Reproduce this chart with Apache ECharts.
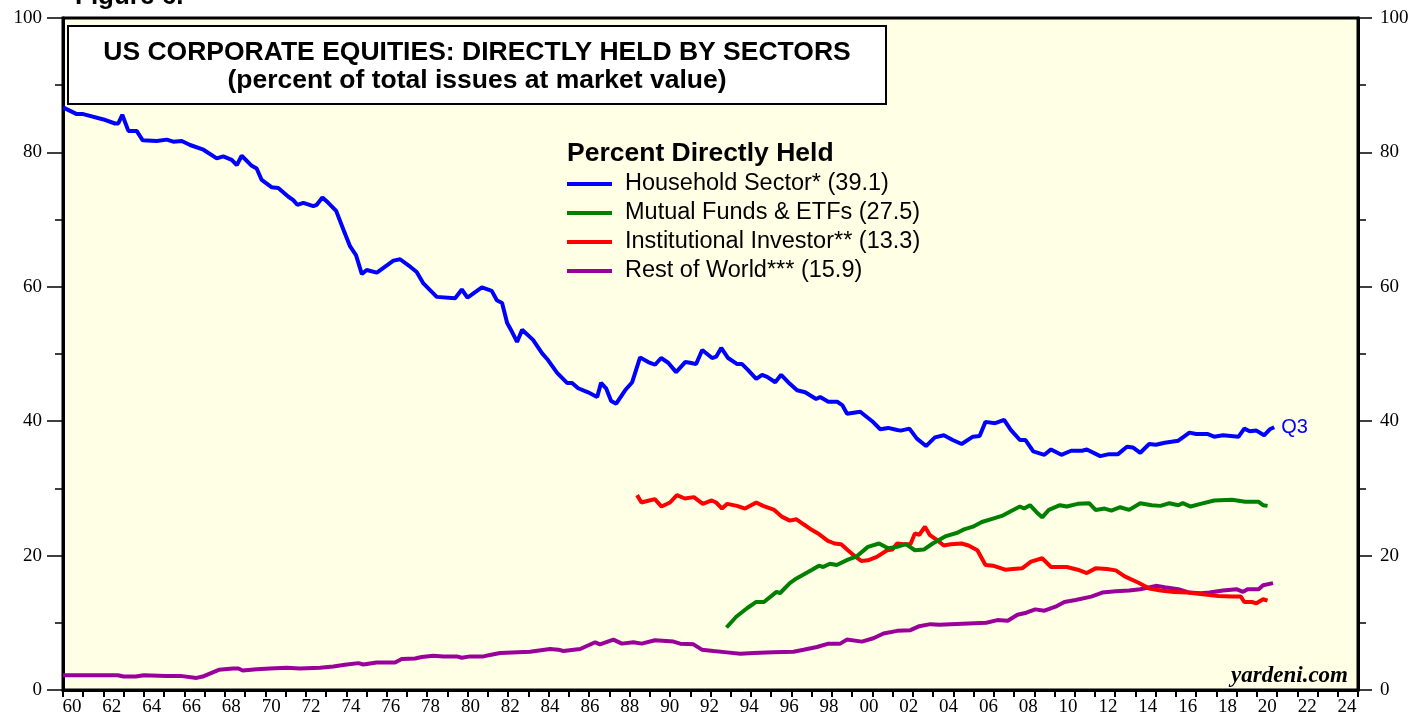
<!DOCTYPE html>
<html>
<head>
<meta charset="utf-8">
<title>US Corporate Equities: Directly Held by Sectors</title>
<script src="https://cdn.jsdelivr.net/npm/echarts@6/dist/echarts.min.js"></script>
<style>
    html, body { margin: 0; padding: 0; background: #ffffff; }
    #chart { width: 1414px; height: 719px; }
</style>
</head>
<body>
<div id="chart"></div>
<script>
// [year, percent] (roughly quarterly where the line moves)
const householdData = [
    [1960.0, 86.7], [1960.68, 85.7], [1961.0, 85.7], [1962.0, 84.9], [1962.57, 84.3], [1962.73, 84.3],
    [1962.93, 85.6], [1963.23, 83.2], [1963.64, 83.2], [1963.94, 81.8], [1964.63, 81.7], [1965.13, 81.9],
    [1965.45, 81.6], [1965.87, 81.7], [1966.28, 81.1], [1966.94, 80.4], [1967.6, 79.1], [1967.92, 79.4],
    [1968.34, 78.9], [1968.59, 78.1], [1968.83, 79.5], [1969.33, 78.0], [1969.57, 77.6], [1969.82, 75.9],
    [1970.32, 74.8], [1970.64, 74.7], [1971.14, 73.4], [1971.38, 72.9], [1971.58, 72.2], [1971.88, 72.5],
    [1972.37, 72.0], [1972.54, 72.2], [1972.82, 73.3], [1973.11, 72.5], [1973.5, 71.3], [1973.86, 68.5],
    [1974.19, 66.0], [1974.48, 64.7], [1974.77, 61.9], [1975.01, 62.5], [1975.51, 62.1], [1975.92, 63.0],
    [1976.33, 63.9], [1976.66, 64.1], [1977.07, 63.2], [1977.48, 62.2], [1977.81, 60.5], [1978.47, 58.5],
    [1979.38, 58.3], [1979.71, 59.6], [1979.99, 58.4], [1980.7, 59.9], [1981.19, 59.4], [1981.44, 58.0],
    [1981.7, 57.6], [1981.95, 54.6], [1982.19, 53.3], [1982.44, 51.8], [1982.69, 53.6], [1983.23, 52.1],
    [1983.68, 50.1], [1983.97, 49.1], [1984.42, 47.2], [1984.91, 45.7], [1985.16, 45.7], [1985.46, 44.9],
    [1985.95, 44.3], [1986.4, 43.6], [1986.59, 45.7], [1986.84, 44.9], [1987.09, 43.0], [1987.34, 42.6],
    [1987.78, 44.6], [1988.13, 45.8], [1988.52, 49.5], [1988.92, 48.8], [1989.26, 48.4], [1989.56, 49.4],
    [1989.91, 48.7], [1990.3, 47.3], [1990.75, 48.8], [1990.99, 48.7], [1991.29, 48.5], [1991.59, 50.6],
    [1992.08, 49.4], [1992.28, 49.6], [1992.53, 50.9], [1992.87, 49.4], [1993.32, 48.5], [1993.56, 48.5],
    [1993.86, 47.6], [1994.26, 46.3], [1994.55, 46.9], [1994.8, 46.6], [1995.2, 45.8], [1995.49, 46.9],
    [1995.84, 45.8], [1996.28, 44.6], [1996.68, 44.3], [1997.22, 43.3], [1997.42, 43.6], [1997.82, 42.9],
    [1998.26, 42.9], [1998.51, 42.4], [1998.75, 41.1], [1999.4, 41.4], [1999.99, 40.0], [2000.39, 38.8],
    [2000.78, 39.0], [2001.23, 38.7], [2001.4, 38.6], [2001.83, 38.9], [2002.2, 37.4], [2002.65, 36.3],
    [2003.09, 37.6], [2003.53, 37.9], [2003.97, 37.2], [2004.41, 36.6], [2004.97, 37.7], [2005.3, 37.8],
    [2005.59, 39.9], [2006.07, 39.7], [2006.51, 40.2], [2006.84, 38.7], [2007.29, 37.2], [2007.57, 37.2],
    [2007.95, 35.5], [2008.5, 35.0], [2008.83, 35.8], [2009.34, 35.0], [2009.82, 35.6], [2010.37, 35.6],
    [2010.6, 35.8], [2011.26, 34.8], [2011.7, 35.1], [2012.14, 35.1], [2012.58, 36.2], [2012.87, 36.1],
    [2013.24, 35.3], [2013.68, 36.6], [2014.01, 36.5], [2014.45, 36.8], [2015.12, 37.1], [2015.67, 38.3],
    [2016.0, 38.1], [2016.55, 38.1], [2016.89, 37.7], [2017.33, 37.9], [2018.1, 37.7], [2018.38, 38.9],
    [2018.65, 38.5], [2018.98, 38.6], [2019.36, 37.9], [2019.64, 38.8], [2019.86, 39.1]
];

const mutualFundData = [
    [1992.79, 9.3], [1993.27, 10.9], [1993.82, 12.2], [1994.26, 13.1], [1994.64, 13.1], [1995.26, 14.6],
    [1995.43, 14.4], [1995.92, 15.9], [1996.25, 16.6], [1997.02, 17.9], [1997.36, 18.5], [1997.57, 18.3],
    [1997.9, 18.8], [1998.24, 18.6], [1998.79, 19.4], [1999.23, 19.9], [1999.78, 21.3], [2000.33, 21.8],
    [2000.78, 21.1], [2001.22, 21.3], [2001.66, 21.7], [2002.1, 20.8], [2002.54, 20.9], [2002.98, 21.8],
    [2003.64, 22.9], [2004.2, 23.4], [2004.53, 23.9], [2004.97, 24.3], [2005.41, 25.0], [2005.96, 25.5],
    [2006.4, 25.9], [2006.84, 26.6], [2007.29, 27.3], [2007.5, 27.0], [2007.79, 27.5], [2008.17, 26.3],
    [2008.39, 25.7], [2008.72, 26.8], [2009.27, 27.5], [2009.6, 27.3], [2010.15, 27.7], [2010.71, 27.8],
    [2011.03, 26.8], [2011.48, 27.0], [2011.81, 26.7], [2012.25, 27.2], [2012.69, 26.8], [2013.24, 27.8],
    [2013.8, 27.5], [2014.24, 27.4], [2014.68, 27.8], [2015.12, 27.5], [2015.34, 27.8], [2015.73, 27.3],
    [2016.22, 27.7], [2016.89, 28.2], [2017.77, 28.3], [2018.43, 28.0], [2019.09, 28.0], [2019.31, 27.5],
    [2019.53, 27.4]
];

const institutionalData = [
    [1988.37, 29.0], [1988.59, 27.9], [1988.97, 28.2], [1989.25, 28.4], [1989.58, 27.3], [1990.0, 27.9],
    [1990.34, 29.0], [1990.73, 28.5], [1991.18, 28.7], [1991.62, 27.7], [1992.06, 28.2], [1992.28, 27.9],
    [1992.57, 27.0], [1992.83, 27.7], [1993.31, 27.4], [1993.71, 27.0], [1994.26, 27.9], [1994.6, 27.4],
    [1995.15, 26.8], [1995.52, 25.8], [1995.92, 25.2], [1996.25, 25.4], [1996.58, 24.7], [1997.02, 23.8],
    [1997.36, 23.2], [1997.8, 22.2], [1998.13, 21.8], [1998.46, 21.7], [1998.79, 20.8], [1999.18, 19.8],
    [1999.45, 19.2], [1999.78, 19.3], [2000.22, 19.8], [2000.73, 20.8], [2000.99, 20.9], [2001.22, 21.8],
    [2001.55, 21.7], [2001.88, 21.7], [2002.1, 23.3], [2002.32, 23.1], [2002.6, 24.3], [2002.83, 23.1],
    [2003.2, 22.3], [2003.53, 21.5], [2003.87, 21.7], [2004.41, 21.8], [2004.75, 21.5], [2005.19, 20.8],
    [2005.59, 18.6], [2005.96, 18.5], [2006.56, 17.9], [2006.95, 18.0], [2007.4, 18.1], [2007.84, 19.1],
    [2008.39, 19.6], [2008.83, 18.3], [2009.6, 18.3], [2010.15, 17.9], [2010.6, 17.4], [2011.03, 18.1],
    [2011.59, 18.0], [2012.03, 17.8], [2012.47, 16.9], [2013.13, 16.0], [2013.69, 15.1], [2014.24, 14.8],
    [2014.9, 14.6], [2015.56, 14.5], [2016.22, 14.3], [2017.1, 14.0], [2017.77, 13.9], [2018.21, 13.9],
    [2018.38, 13.1], [2018.76, 13.1], [2018.98, 12.9], [2019.31, 13.5], [2019.53, 13.3]
];

const restOfWorldData = [
    [1960.0, 2.2], [1961.0, 2.2], [1962.7, 2.2], [1963.0, 2.0], [1963.6, 2.0], [1964.0, 2.2], [1965.1, 2.1],
    [1965.8, 2.1], [1966.6, 1.8], [1966.9, 2.0], [1967.7, 3.0], [1968.4, 3.2], [1968.67, 3.2], [1968.88, 2.9],
    [1969.57, 3.1], [1970.23, 3.2], [1971.06, 3.3], [1971.7, 3.2], [1972.7, 3.3], [1973.36, 3.5],
    [1974.02, 3.8], [1974.6, 4.0], [1974.84, 3.8], [1975.5, 4.1], [1975.83, 4.1], [1976.41, 4.1],
    [1976.74, 4.6], [1977.4, 4.7], [1977.73, 4.9], [1978.3, 5.1], [1978.8, 5.0], [1979.46, 5.0],
    [1979.71, 4.8], [1980.12, 5.0], [1980.78, 5.0], [1981.1, 5.2], [1981.6, 5.5], [1983.08, 5.7],
    [1984.07, 6.1], [1984.48, 6.0], [1984.73, 5.8], [1985.56, 6.1], [1986.3, 7.1], [1986.54, 6.8],
    [1987.2, 7.5], [1987.62, 6.9], [1988.19, 7.1], [1988.6, 6.9], [1989.26, 7.4], [1990.17, 7.2],
    [1990.5, 6.9], [1991.16, 6.8], [1991.57, 6.0], [1992.15, 5.8], [1992.81, 5.6], [1993.47, 5.4],
    [1994.12, 5.5], [1995.11, 5.6], [1996.1, 5.7], [1996.6, 6.0], [1997.26, 6.4], [1997.83, 6.9],
    [1998.41, 6.9], [1998.74, 7.5], [1999.48, 7.2], [2000.05, 7.7], [2000.55, 8.4], [2001.22, 8.8],
    [2001.88, 8.9], [2002.32, 9.5], [2002.87, 9.8], [2003.31, 9.7], [2003.87, 9.8], [2004.75, 9.9],
    [2005.63, 10.0], [2006.18, 10.4], [2006.69, 10.3], [2007.17, 11.2], [2007.61, 11.5], [2008.05, 12.0],
    [2008.5, 11.8], [2009.05, 12.4], [2009.49, 13.1], [2010.04, 13.4], [2010.82, 13.9], [2011.36, 14.5],
    [2012.03, 14.7], [2012.69, 14.8], [2013.24, 15.0], [2014.01, 15.5], [2014.45, 15.3], [2015.12, 15.0],
    [2015.67, 14.5], [2016.22, 14.4], [2016.66, 14.5], [2017.33, 14.8], [2017.99, 15.0], [2018.32, 14.6],
    [2018.54, 15.0], [2019.09, 15.0], [2019.31, 15.6], [2019.8, 15.9]
];

const seriesNames = [
    "Household Sector* (39.1)",
    "Mutual Funds & ETFs (27.5)",
    "Institutional Investor** (13.3)",
    "Rest of World*** (15.9)"
];
const seriesColors = ["#0000ff", "#008000", "#ff0000", "#990099"];
const xLabelYears = [];
for (let y = 1960; y <= 2024; y += 2) xLabelYears.push(y);

const chart = echarts.init(document.getElementById("chart"), null, { renderer: "canvas" });

const serifFont = "'Liberation Serif', 'DejaVu Serif', serif";
const sansFont = "'Liberation Sans', Arial, sans-serif";

function yAxisDef(position, tickLen, margin) {
    return {
        type: "value",
        position: position,
        min: 0,
        max: 100,
        interval: 20,
        axisLine: { show: true, lineStyle: { color: "#000", width: 3 } },
        axisTick: { show: true, inside: false, length: tickLen, lineStyle: { color: "#000", width: 1.5 } },
        minorTick: { show: true, splitNumber: 2, length: 8, lineStyle: { color: "#000", width: 1.5 } },
        splitLine: { show: false },
        axisLabel: { color: "#000", fontFamily: serifFont, fontSize: 19, margin: margin }
    };
}

function lineSeries(idx, data, extra) {
    return Object.assign({
        name: seriesNames[idx],
        type: "line",
        data: data,
        showSymbol: false,
        symbol: "none",
        lineStyle: { color: seriesColors[idx], width: 4 },
        itemStyle: { color: seriesColors[idx] },
        z: 10 - idx,
        silent: true
    }, extra || {});
}

chart.setOption({
    animation: false,
    backgroundColor: "#ffffff",
    grid: {
        left: 63,
        right: 56,
        top: 18,
        bottom: 29,
        show: true,
        backgroundColor: "#ffffe6",
        borderColor: "#000",
        borderWidth: 3
    },
    xAxis: [
        {
            type: "value",
            min: 1960,
            max: 2024,
            interval: 1,
            position: "bottom",
            axisLine: { show: true, onZero: false, lineStyle: { color: "#000", width: 3 } },
            axisTick: { show: true, inside: false, length: 7, lineStyle: { color: "#000", width: 2 } },
            axisLabel: { show: false },
            splitLine: { show: false }
        },
        {
            // label-only axis: the original spaces its year labels slightly tighter than its ticks
            type: "value",
            min: 1959.55,
            max: 2024.55,
            position: "bottom",
            axisLine: { show: false, onZero: false },
            axisTick: { show: false },
            splitLine: { show: false },
            axisLabel: {
                show: true,
                customValues: xLabelYears,
                color: "#000",
                fontFamily: serifFont,
                fontSize: 19,
                margin: 8,
                formatter: v => String(Math.round(v) % 100).padStart(2, "0")
            }
        }
    ],
    yAxis: [yAxisDef("left", 16, 21), yAxisDef("right", 14, 22)],
    legend: {
        orient: "vertical",
        left: 567,
        top: 172,
        padding: 0,
        itemWidth: 45,
        itemHeight: 4,
        itemGap: 5,
        icon: "rect",
        selectedMode: false,
        data: seriesNames,
        textStyle: { fontFamily: sansFont, fontSize: 23.5, color: "#000", lineHeight: 24, padding: [0, 0, 0, 8] }
    },
    series: [
        lineSeries(0, householdData, {
            endLabel: {
                show: true,
                formatter: "Q3",
                color: "#0000ff",
                fontFamily: sansFont,
                fontSize: 20,
                distance: 7
            }
        }),
        lineSeries(1, mutualFundData),
        lineSeries(2, institutionalData),
        lineSeries(3, restOfWorldData)
    ],
    graphic: [
        {
            type: "text",
            left: 75,
            top: -16,
            style: { text: "Figure 6.", fontFamily: sansFont, fontWeight: "bold", fontSize: 26, fill: "#000" }
        },
        {
            type: "rect",
            shape: { x: 68, y: 26, width: 818, height: 78 },
            style: { fill: "#ffffff", stroke: "#000", lineWidth: 2 },
            z: 50
        },
        {
            type: "text",
            x: 477,
            y: 53,
            z: 51,
            style: {
                text: "US CORPORATE EQUITIES: DIRECTLY HELD BY SECTORS",
                fontFamily: sansFont, fontWeight: "bold", fontSize: 26.5, fill: "#000",
                align: "center", verticalAlign: "middle"
            }
        },
        {
            type: "text",
            x: 477,
            y: 81,
            z: 51,
            style: {
                text: "(percent of total issues at market value)",
                fontFamily: sansFont, fontWeight: "bold", fontSize: 26.5, fill: "#000",
                align: "center", verticalAlign: "middle"
            }
        },
        {
            type: "text",
            x: 567,
            y: 154,
            z: 51,
            style: {
                text: "Percent Directly Held",
                fontFamily: sansFont, fontWeight: "bold", fontSize: 26.5, fill: "#000",
                align: "left", verticalAlign: "middle"
            }
        },
        {
            type: "text",
            x: 1348,
            y: 676,
            z: 51,
            style: {
                text: "yardeni.com",
                fontFamily: serifFont, fontWeight: "bold", fontStyle: "italic", fontSize: 23, fill: "#000",
                align: "right", verticalAlign: "middle"
            }
        }
    ]
});

window.addEventListener("resize", () => chart.resize());
</script>
</body>
</html>
